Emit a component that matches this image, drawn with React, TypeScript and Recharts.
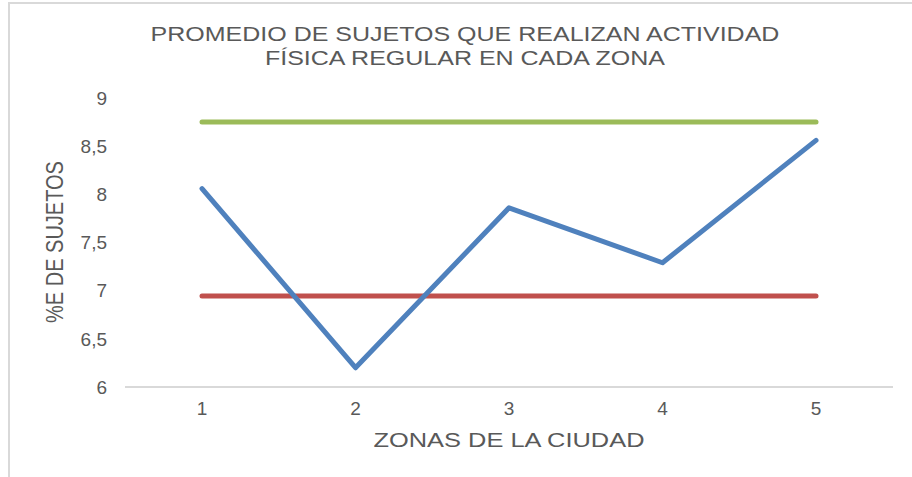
import React from "react";
import { LineChart, Line, XAxis, YAxis } from "recharts";

const zonas = ["1", "2", "3", "4", "5"];
const actividad = [8.06, 6.2, 7.86, 7.29, 8.56];
const limiteSuperior = [8.75, 8.75, 8.75, 8.75, 8.75];
const limiteInferior = [6.945, 6.945, 6.945, 6.945, 6.945];
const yTicks = [6, 6.5, 7, 7.5, 8, 8.5, 9];

const data = zonas.map((zona, i) => ({
  zona,
  actividad: actividad[i],
  superior: limiteSuperior[i],
  inferior: limiteInferior[i],
}));

const FONT = "'Liberation Sans', Arial, sans-serif";
const TEXT = "#595959";

const App: React.FC = () => {
  return (
    <div
      style={{
        position: "absolute",
        left: 0,
        top: 0,
        width: 912,
        height: 477,
        background: "#fff",
        fontFamily: FONT,
        overflow: "hidden",
      }}
    >
      {/* chart frame */}
      <div
        style={{
          position: "absolute",
          left: 8,
          top: 2,
          width: 920,
          height: 490,
          borderLeft: "2px solid #d9d9d9",
          borderTop: "2px solid #d9d9d9",
        }}
      />
      <LineChart
        width={912}
        height={477}
        data={data}
        margin={{ top: 98, right: 19, bottom: 0, left: 0 }}
      >
        <XAxis
          dataKey="zona"
          height={90}
          padding={{ left: 77, right: 77 }}
          stroke="#d9d9d9"
          strokeWidth={2}
          tickLine={false}
          tickSize={0}
          tickMargin={15}
          tick={{ fill: TEXT, fontSize: 19, fontFamily: FONT }}
        />
        <YAxis
          width={125}
          domain={[6, 9]}
          ticks={yTicks}
          axisLine={false}
          tickLine={false}
          tickSize={0}
          tickMargin={18}
          tick={{ fill: TEXT, fontSize: 19, fontFamily: FONT }}
          tickFormatter={(v: number) => String(v).replace(".", ",")}
        />
        <Line
          dataKey="superior"
          stroke="#9bbb59"
          strokeWidth={5}
          strokeLinecap="round"
          dot={false}
          isAnimationActive={false}
        />
        <Line
          dataKey="inferior"
          stroke="#c0504d"
          strokeWidth={5}
          strokeLinecap="round"
          dot={false}
          isAnimationActive={false}
        />
        <Line
          dataKey="actividad"
          stroke="#4f81bd"
          strokeWidth={5}
          strokeLinecap="round"
          strokeLinejoin="round"
          dot={false}
          isAnimationActive={false}
        />
      </LineChart>
      {/* title */}
      <div
        style={{
          position: "absolute",
          left: 0,
          top: 22,
          width: 930,
          textAlign: "center",
          color: TEXT,
          fontSize: 20,
          lineHeight: "24px",
          transform: "scaleX(1.25)",
          transformOrigin: "465px 0",
        }}
      >
        PROMEDIO DE SUJETOS QUE REALIZAN ACTIVIDAD
        <br />
        FÍSICA REGULAR EN CADA ZONA
      </div>
      {/* x axis title */}
      <div
        style={{
          position: "absolute",
          left: 309,
          top: 428,
          width: 400,
          textAlign: "center",
          color: TEXT,
          fontSize: 20,
          lineHeight: "24px",
          transform: "scaleX(1.27)",
        }}
      >
        ZONAS DE LA CIUDAD
      </div>
      {/* y axis title */}
      <div
        style={{
          position: "absolute",
          left: 55 - 100,
          top: 242 - 12,
          width: 200,
          textAlign: "center",
          color: TEXT,
          fontSize: 20,
          lineHeight: "24px",
          transform: "rotate(-90deg) scaleY(1.2)",
        }}
      >
        %E DE SUJETOS
      </div>
    </div>
  );
};

export default App;
